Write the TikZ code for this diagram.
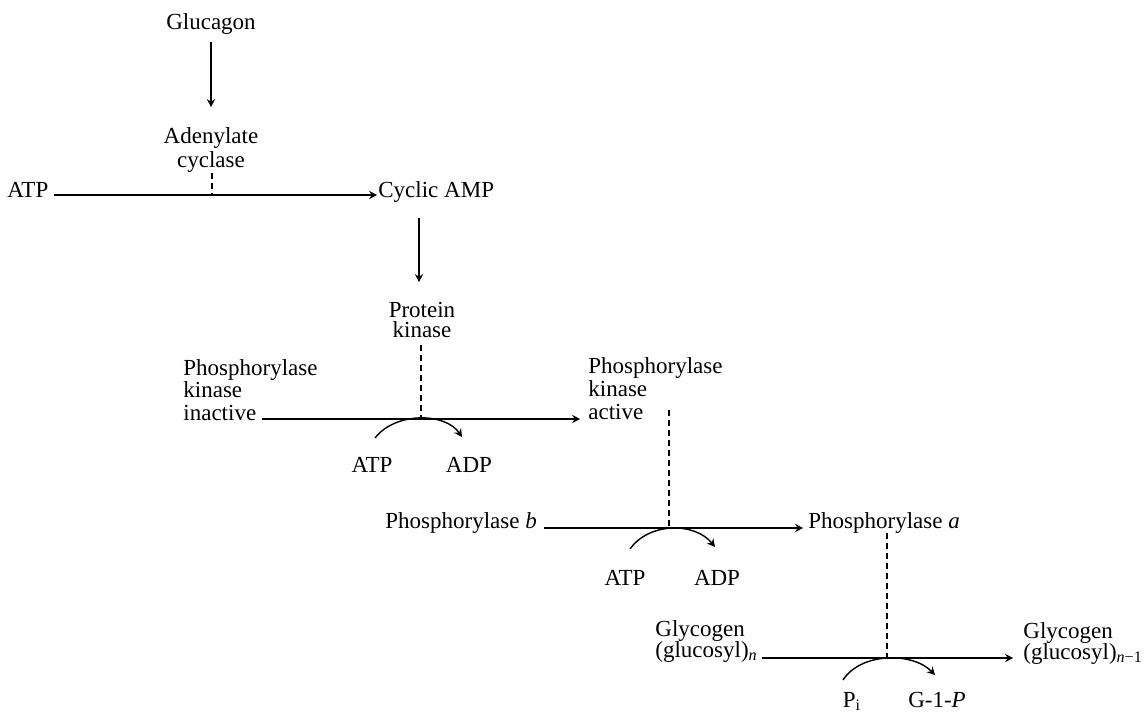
\documentclass[tikz,border=0pt]{standalone}
\usepackage{fontspec}
\setmainfont{Liberation Serif}
\usetikzlibrary{arrows.meta,calc}
\begin{document}
\begin{tikzpicture}[x=0.5pt,y=-0.5pt,
  txt/.style={inner sep=0pt, font=\fontsize{11.5}{12}\selectfont},
  arr/.style={line width=0.7pt,-{Stealth[length=4pt,width=4.2pt,inset=1.4pt]}},
  dsh/.style={line width=0.8pt,dash pattern=on 3pt off 2pt}]
\useasboundingbox (0,0) rectangle (1146,714);

% text nodes
\node[txt,anchor=base] (glucagon) at (211,29) {Glucagon};
\node[txt,align=center,anchor=north,font=\fontsize{11.5}{12}\selectfont] (adenylate) at (211,127) {Adenylate\\cyclase};
\node[txt,anchor=base west] (atp1) at (7,197) {ATP};
\node[txt,anchor=base west] (camp) at (378,197) {Cyclic AMP};
\node[txt,align=center,anchor=north,font=\fontsize{11.5}{10}\selectfont] (protein) at (422,302) {Protein\\kinase};
\node[txt,align=left,anchor=north west,font=\fontsize{11.5}{11.25}\selectfont] (pkin) at (183,359) {Phosphorylase\\kinase\\inactive};
\node[txt,align=left,anchor=north west,font=\fontsize{11.5}{11.5}\selectfont] (pkact) at (588,357) {Phosphorylase\\kinase\\active};
\node[txt,anchor=base] (atp2) at (372,472) {ATP};
\node[txt,anchor=base] (adp2) at (469,472) {ADP};
\node[txt,anchor=base west] (phb) at (385,528) {Phosphorylase \textit{b}};
\node[txt,anchor=base west] (pha) at (808,528) {Phosphorylase \textit{a}};
\node[txt,anchor=base] (atp3) at (625,585) {ATP};
\node[txt,anchor=base] (adp3) at (717,585) {ADP};
\node[txt,align=left,anchor=north west,font=\fontsize{11.5}{10.5}\selectfont] (glyn) at (655,620) {Glycogen\\(glucosyl)\textsubscript{\textit{n}}};
\node[txt,align=left,anchor=north west,font=\fontsize{11.5}{10.5}\selectfont] (glyn1) at (1023,622) {Glycogen\\(glucosyl)\textsubscript{\textit{n}−1}};
\node[txt,anchor=base] (pi) at (852,707) {P\textsubscript{i}};
\node[txt,anchor=base] (g1p) at (937,707) {G-1-\textit{P}};

% junctions on the reaction lines
\coordinate (m1) at (212,195);
\coordinate (m2) at (421,419);
\coordinate (m3) at (669,528);
\coordinate (m4) at (887,658);
\coordinate (l2s) at (262,419);

% glucagon -> adenylate cyclase
\draw[arr,shorten <=4pt,shorten >=10pt] (glucagon) -- (adenylate);
% ATP -> cyclic AMP
\draw[arr] ($(atp1.base east)+(5,-2)$) -- ($(camp.base west)+(-1,-2)$);
\draw[dsh] (adenylate.south -| m1) -- (m1);
% cyclic AMP -> protein kinase
\draw[arr,shorten <=8pt,shorten >=10pt] ($(camp.south -| protein.north)+(-3,0)$) -- ($(protein.north)+(-3,0)$);
\draw[dsh,shorten <=3.5pt] (protein.south -| m2) -- (m2);
% phosphorylase kinase inactive -> active
\draw[arr] (l2s) -- ($(pkact.west |- m2)+(-8,0)$);
\draw[arr] ($(m2)+(-46,19)$) .. controls ($(m2)+(-26,-7)$) and ($(m2)+(24,-7)$) .. ($(m2)+(41,18)$);
% phosphorylase b -> a
\draw[dsh] ($(m3)+(0,-118)$) -- (m3);
\draw[arr] ($(phb.base east)+(7,0)$) -- ($(pha.base west)+(-5,0)$);
\draw[arr] ($(m3)+(-39,21)$) .. controls ($(m3)+(-20,-6)$) and ($(m3)+(26,-6)$) .. ($(m3)+(46,19)$);
% glycogen breakdown
\draw[dsh] (pha.south -| m4) -- (m4);
\draw[arr] ($(glyn.east |- m4)+(4,0)$) -- ($(glyn1.west |- m4)+(-10,0)$);
\draw[arr] ($(m4)+(-44,22)$) .. controls ($(m4)+(-26,-6)$) and ($(m4)+(26,-6)$) .. ($(m4)+(48,17)$);
\end{tikzpicture}
\end{document}
